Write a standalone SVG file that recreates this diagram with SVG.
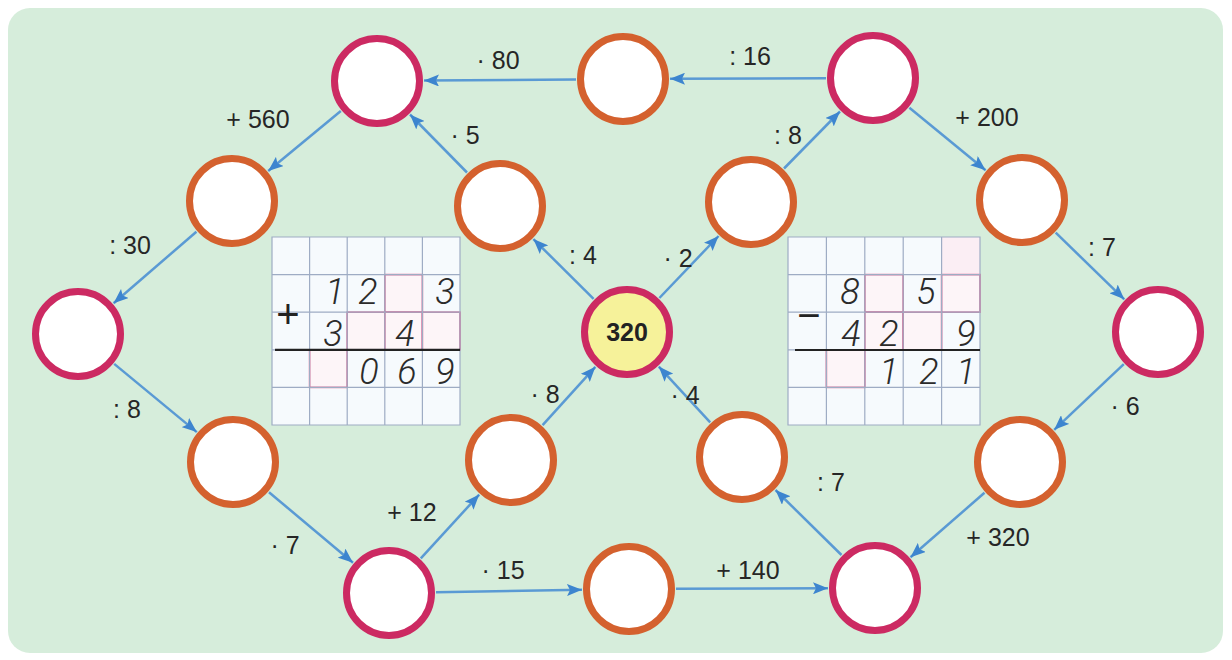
<svg xmlns="http://www.w3.org/2000/svg" width="1232" height="660" viewBox="0 0 1232 660">
<defs>
<marker id="ah" markerUnits="userSpaceOnUse" markerWidth="16" markerHeight="12" refX="15" refY="6" orient="auto">
<path d="M0,0 L15,6 L0,12 L3,6 z" fill="#3d85cf"/>
</marker>
<style>
.pk{fill:#ffffff;stroke:#cc2a62;stroke-width:7}
.or{fill:#ffffff;stroke:#d4612e;stroke-width:7}
.cn{fill:#f6f29a;stroke:#cc2a62;stroke-width:7}
.ed{stroke:#5a9ad4;stroke-width:2.5;fill:none;marker-end:url(#ah)}
.lb{font-family:"Liberation Sans",Arial,sans-serif;font-size:25px;fill:#262626;text-anchor:middle}
.gl{stroke:#9eacc4;stroke-width:1.2;fill:none}
.pb{stroke:#e0608e;stroke-width:1.6;fill:#fdf5f8}
.dg{font-family:Roboto,"Liberation Sans",sans-serif;font-style:italic;font-weight:300;font-size:36px;fill:#2b2b2b;text-anchor:middle}
.sg{font-family:"Liberation Sans",sans-serif;font-size:40px;fill:#222;text-anchor:middle}
</style>
</defs>
<rect x="0" y="0" width="1232" height="660" fill="#ffffff"/>
<rect x="8" y="8" width="1215" height="645" rx="22" fill="#d6eddb"/>

<g id="grid-left">
<rect x="272" y="237" width="188" height="188" fill="#f6fafd"/>
<rect class="pb" x="384.8" y="274.6" width="37.6" height="37.6"/>
<rect class="pb" x="347.2" y="312.2" width="37.6" height="37.6"/>
<rect class="pb" x="384.8" y="312.2" width="37.6" height="37.6"/>
<rect class="pb" x="422.4" y="312.2" width="37.6" height="37.6"/>
<rect class="pb" x="309.6" y="349.8" width="37.6" height="37.6"/>
<path class="gl" d="M272,237H460V425H272Z M309.6,237V425 M347.2,237V425 M384.8,237V425 M422.4,237V425 M272,274.6H460 M272,312.2H460 M272,349.8H460 M272,387.4H460"/>
<line x1="275" y1="349.8" x2="460" y2="349.8" stroke="#222" stroke-width="2.2"/>
<text class="sg" x="288" y="328">+</text>
<text class="dg" x="335" y="304">1</text>
<text class="dg" x="368" y="304">2</text>
<text class="dg" x="445" y="304">3</text>
<text class="dg" x="333" y="346">3</text>
<text class="dg" x="405" y="346">4</text>
<text class="dg" x="369" y="384">0</text>
<text class="dg" x="407" y="384">6</text>
<text class="dg" x="445" y="384">9</text>
</g>

<g id="grid-right">
<rect x="788" y="237" width="192" height="188" fill="#f6fafd"/>
<rect x="941.6" y="237" width="38.4" height="37.6" fill="#fbeef4"/>
<rect class="pb" x="864.8" y="274.6" width="38.4" height="37.6"/>
<rect class="pb" x="941.6" y="274.6" width="38.4" height="37.6"/>
<rect class="pb" x="864.8" y="312.2" width="38.4" height="37.6"/>
<rect class="pb" x="903.2" y="312.2" width="38.4" height="37.6"/>
<rect class="pb" x="826.4" y="349.8" width="38.4" height="37.6"/>
<path class="gl" d="M788,237H980V425H788Z M826.4,237V425 M864.8,237V425 M903.2,237V425 M941.6,237V425 M788,274.6H980 M788,312.2H980 M788,349.8H980 M788,387.4H980"/>
<line x1="795" y1="350" x2="980" y2="350" stroke="#222" stroke-width="2.2"/>
<text class="sg" x="809" y="329">−</text>
<text class="dg" x="850" y="304">8</text>
<text class="dg" x="926" y="304">5</text>
<text class="dg" x="851" y="346">4</text>
<text class="dg" x="889" y="346">2</text>
<text class="dg" x="966" y="346">9</text>
<text class="dg" x="889" y="384">1</text>
<text class="dg" x="929" y="384">2</text>
<text class="dg" x="966" y="384">1</text>
</g>

<g id="connectors">
<line class="ed" x1="576" y1="79.4" x2="424" y2="80.6"/>
<line class="ed" x1="826" y1="78.2" x2="670" y2="78.8"/>
<line class="ed" x1="340.8" y1="111" x2="268.2" y2="171"/>
<line class="ed" x1="196.4" y1="231.7" x2="113.6" y2="303.3"/>
<line class="ed" x1="114.2" y1="363.9" x2="196.8" y2="432.1"/>
<line class="ed" x1="269" y1="492.2" x2="353" y2="562.8"/>
<line class="ed" x1="420.8" y1="558.4" x2="479.2" y2="494.6"/>
<line class="ed" x1="436" y1="592.2" x2="582" y2="589.8"/>
<line class="ed" x1="542.6" y1="425.2" x2="595.4" y2="366.8"/>
<line class="ed" x1="593.6" y1="298.9" x2="533.4" y2="239.1"/>
<line class="ed" x1="467" y1="172.5" x2="410" y2="114.5"/>
<line class="ed" x1="659.4" y1="298" x2="718.6" y2="236"/>
<line class="ed" x1="784" y1="168.5" x2="840" y2="111.5"/>
<line class="ed" x1="909.4" y1="107.8" x2="985.6" y2="170.2"/>
<line class="ed" x1="1055.7" y1="232.7" x2="1124.3" y2="299.3"/>
<line class="ed" x1="1123.8" y1="364.2" x2="1054.2" y2="429.8"/>
<line class="ed" x1="984.5" y1="492.8" x2="910.5" y2="557.2"/>
<line class="ed" x1="841.5" y1="555" x2="775.5" y2="490"/>
<line class="ed" x1="710.2" y1="422.4" x2="658.8" y2="366.6"/>
<line class="ed" x1="676" y1="588.8" x2="828" y2="588.2"/>
</g>

<g id="labels">
<text class="lb" x="498" y="69">· 80</text>
<text class="lb" x="750" y="65">: 16</text>
<text class="lb" x="258" y="128">+ 560</text>
<text class="lb" x="465" y="144">· 5</text>
<text class="lb" x="788" y="144">: 8</text>
<text class="lb" x="987" y="126">+ 200</text>
<text class="lb" x="130" y="254">: 30</text>
<text class="lb" x="583" y="264">: 4</text>
<text class="lb" x="678" y="267">· 2</text>
<text class="lb" x="1102" y="256">: 7</text>
<text class="lb" x="127" y="418">: 8</text>
<text class="lb" x="545" y="403">· 8</text>
<text class="lb" x="685" y="404">· 4</text>
<text class="lb" x="1125" y="415">· 6</text>
<text class="lb" x="412" y="521">+ 12</text>
<text class="lb" x="831" y="491">: 7</text>
<text class="lb" x="285" y="554">· 7</text>
<text class="lb" x="998" y="546">+ 320</text>
<text class="lb" x="503" y="579">· 15</text>
<text class="lb" x="748" y="579">+ 140</text>
</g>

<g id="node-A"><circle class="pk" cx="377" cy="81" r="42.5"/></g>
<g id="node-B"><circle class="pk" cx="873" cy="78" r="42.5"/></g>
<g id="node-C"><circle class="pk" cx="78" cy="334" r="42.5"/></g>
<g id="node-D"><circle class="pk" cx="1158" cy="332" r="42.5"/></g>
<g id="node-E"><circle class="pk" cx="389" cy="593" r="42.5"/></g>
<g id="node-F"><circle class="pk" cx="875" cy="588" r="42.5"/></g>
<g id="node-T"><circle class="or" cx="623" cy="79" r="42.5"/></g>
<g id="node-L1"><circle class="or" cx="232" cy="201" r="42.5"/></g>
<g id="node-L2"><circle class="or" cx="500" cy="206" r="42.5"/></g>
<g id="node-R1"><circle class="or" cx="751" cy="202" r="42.5"/></g>
<g id="node-R2"><circle class="or" cx="1022" cy="200" r="42.5"/></g>
<g id="node-L3"><circle class="or" cx="233" cy="462" r="42.5"/></g>
<g id="node-L4"><circle class="or" cx="511" cy="460" r="42.5"/></g>
<g id="node-R3"><circle class="or" cx="742" cy="457" r="42.5"/></g>
<g id="node-R4"><circle class="or" cx="1020" cy="462" r="42.5"/></g>
<g id="node-M"><circle class="or" cx="629" cy="589" r="42.5"/></g>
<g id="node-center">
<circle class="cn" cx="627" cy="332" r="42.5"/>
<text x="627" y="341" font-family="Liberation Sans, Arial, sans-serif" font-size="25" font-weight="bold" fill="#222" text-anchor="middle">320</text>
</g>
</svg>
